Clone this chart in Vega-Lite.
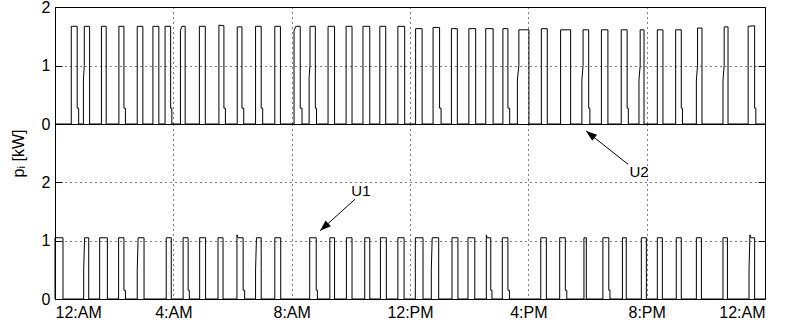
{
  "$schema": "https://vega.github.io/schema/vega-lite/v6.json",
  "background": "white",
  "padding": {"left": 9, "top": -2, "right": 2, "bottom": 0},
  "spacing": 0,
  "bounds": "flush",
  "config": {
    "view": {"stroke": "black", "strokeWidth": 1},
    "font": "Liberation Sans",
    "axis": {"domain": false, "ticks": false, "grid": true, "gridColor": "black", "gridDash": [1, 4], "gridWidth": 1, "gridOpacity": 1,
      "labelFont": "Liberation Sans", "labelFontSize": 16, "labelColor": "black", "labelPadding": 5, "format": "d",
      "titleFont": "Liberation Sans", "titleFontSize": 16, "titleFontWeight": "normal", "titleColor": "black"}
  },
  "datasets": {
    "u2": [
      {"t":0,"p":0},
      {"t":0.55,"p":0},{"t":0.55,"p":1.67},{"t":0.75,"p":1.67},{"t":0.75,"p":0.27},{"t":0.80,"p":0.27},{"t":0.80,"p":0},
      {"t":0.96,"p":0},{"t":0.96,"p":0.75},{"t":0.99,"p":1.0},{"t":0.99,"p":1.67},{"t":1.17,"p":1.67},{"t":1.17,"p":0},
      {"t":1.57,"p":0},{"t":1.57,"p":1.67},{"t":1.73,"p":1.67},{"t":1.73,"p":0},
      {"t":2.16,"p":0},{"t":2.16,"p":1.67},{"t":2.33,"p":1.67},{"t":2.33,"p":0.27},{"t":2.38,"p":0.27},{"t":2.38,"p":0},
      {"t":2.78,"p":0},{"t":2.78,"p":1.67},{"t":2.97,"p":1.67},{"t":2.97,"p":0},
      {"t":3.31,"p":0},{"t":3.31,"p":1.67},{"t":3.51,"p":1.67},{"t":3.51,"p":0},
      {"t":3.72,"p":0},{"t":3.72,"p":1.67},{"t":3.91,"p":1.67},{"t":3.91,"p":0.27},{"t":3.95,"p":0.27},{"t":3.95,"p":0},
      {"t":4.24,"p":0},{"t":4.24,"p":1.6},{"t":4.29,"p":1.67},{"t":4.40,"p":1.67},{"t":4.40,"p":0},
      {"t":4.88,"p":0},{"t":4.88,"p":1.67},{"t":5.08,"p":1.67},{"t":5.08,"p":0},
      {"t":5.54,"p":0},{"t":5.54,"p":1.69},{"t":5.71,"p":1.68},{"t":5.71,"p":0.27},{"t":5.76,"p":0.27},{"t":5.76,"p":0},
      {"t":6.16,"p":0},{"t":6.16,"p":1.66},{"t":6.32,"p":1.66},{"t":6.32,"p":0.27},{"t":6.38,"p":0.27},{"t":6.38,"p":0},
      {"t":6.78,"p":0},{"t":6.78,"p":1.67},{"t":6.97,"p":1.67},{"t":6.97,"p":0.27},{"t":7.02,"p":0.27},{"t":7.02,"p":0},
      {"t":7.43,"p":0},{"t":7.43,"p":1.67},{"t":7.62,"p":1.67},{"t":7.62,"p":0},
      {"t":8.08,"p":0},{"t":8.08,"p":1.6},{"t":8.14,"p":1.67},{"t":8.29,"p":1.67},{"t":8.29,"p":0.27},{"t":8.35,"p":0.27},{"t":8.35,"p":0},
      {"t":8.59,"p":0},{"t":8.59,"p":0.8},{"t":8.62,"p":1.0},{"t":8.62,"p":1.67},{"t":8.80,"p":1.67},{"t":8.80,"p":0.27},{"t":8.84,"p":0.27},{"t":8.84,"p":0},
      {"t":9.23,"p":0},{"t":9.23,"p":1.67},{"t":9.45,"p":1.67},{"t":9.45,"p":0},
      {"t":9.84,"p":0},{"t":9.84,"p":1.67},{"t":10.04,"p":1.67},{"t":10.04,"p":0},
      {"t":10.41,"p":0},{"t":10.41,"p":1.67},{"t":10.64,"p":1.67},{"t":10.64,"p":0},
      {"t":10.98,"p":0},{"t":10.98,"p":1.67},{"t":11.18,"p":1.67},{"t":11.18,"p":0},
      {"t":11.59,"p":0},{"t":11.59,"p":1.67},{"t":11.82,"p":1.67},{"t":11.82,"p":0},
      {"t":12.19,"p":0},{"t":12.19,"p":1.63},{"t":12.41,"p":1.63},{"t":12.41,"p":0},
      {"t":12.78,"p":0},{"t":12.78,"p":1.65},{"t":13.00,"p":1.65},{"t":13.00,"p":0.27},{"t":13.05,"p":0.27},{"t":13.05,"p":0},
      {"t":13.40,"p":0},{"t":13.40,"p":1.63},{"t":13.60,"p":1.63},{"t":13.60,"p":0},
      {"t":13.99,"p":0},{"t":13.99,"p":1.63},{"t":14.22,"p":1.63},{"t":14.22,"p":0},
      {"t":14.56,"p":0},{"t":14.56,"p":1.63},{"t":14.81,"p":1.63},{"t":14.81,"p":0},
      {"t":15.14,"p":0},{"t":15.14,"p":1.63},{"t":15.31,"p":1.63},{"t":15.31,"p":0.27},{"t":15.37,"p":0.27},{"t":15.37,"p":0},
      {"t":15.63,"p":0},{"t":15.63,"p":0.75},{"t":15.68,"p":1.0},{"t":15.68,"p":1.61},{"t":16.02,"p":1.61},{"t":16.02,"p":0},
      {"t":16.44,"p":0},{"t":16.44,"p":1.63},{"t":16.64,"p":1.63},{"t":16.64,"p":0},
      {"t":17.09,"p":0},{"t":17.09,"p":1.61},{"t":17.43,"p":1.61},{"t":17.43,"p":0},
      {"t":17.81,"p":0},{"t":17.81,"p":0.75},{"t":17.85,"p":1.0},{"t":17.85,"p":1.61},{"t":18.04,"p":1.61},{"t":18.04,"p":0.27},{"t":18.08,"p":0.27},{"t":18.08,"p":0},
      {"t":18.47,"p":0},{"t":18.47,"p":1.61},{"t":18.69,"p":1.61},{"t":18.69,"p":0},
      {"t":19.14,"p":0},{"t":19.14,"p":1.61},{"t":19.34,"p":1.61},{"t":19.34,"p":0.27},{"t":19.38,"p":0.27},{"t":19.38,"p":0},
      {"t":19.74,"p":0},{"t":19.74,"p":0.75},{"t":19.78,"p":1.0},{"t":19.78,"p":1.61},{"t":19.91,"p":1.61},{"t":19.91,"p":0},
      {"t":20.36,"p":0},{"t":20.36,"p":1.61},{"t":20.55,"p":1.61},{"t":20.55,"p":0},
      {"t":20.98,"p":0},{"t":20.98,"p":1.61},{"t":21.17,"p":1.61},{"t":21.17,"p":0.27},{"t":21.21,"p":0.27},{"t":21.21,"p":0},
      {"t":21.68,"p":0},{"t":21.68,"p":0.75},{"t":21.72,"p":1.0},{"t":21.72,"p":1.64},{"t":21.87,"p":1.64},{"t":21.87,"p":0},
      {"t":22.58,"p":0},{"t":22.58,"p":0.75},{"t":22.62,"p":1.0},{"t":22.62,"p":1.66},{"t":22.75,"p":1.66},{"t":22.75,"p":0},
      {"t":23.43,"p":0},{"t":23.43,"p":1.67},{"t":23.65,"p":1.68},{"t":23.65,"p":0.27},{"t":23.69,"p":0.27},{"t":23.69,"p":0},
      {"t":24,"p":0}
    ],
    "u1": [
      {"t":0,"p":0},{"t":0,"p":1.05},{"t":0.27,"p":1.05},{"t":0.27,"p":0},
      {"t":0.97,"p":0},{"t":0.97,"p":0.5},{"t":1.0,"p":1.05},{"t":1.14,"p":1.05},{"t":1.14,"p":0},
      {"t":1.51,"p":0},{"t":1.51,"p":1.05},{"t":1.77,"p":1.05},{"t":1.77,"p":0},
      {"t":2.15,"p":0},{"t":2.15,"p":1.05},{"t":2.33,"p":1.05},{"t":2.33,"p":0.15},{"t":2.38,"p":0.15},{"t":2.38,"p":0},
      {"t":2.78,"p":0},{"t":2.78,"p":0.5},{"t":2.81,"p":1.05},{"t":3.01,"p":1.05},{"t":3.01,"p":0},
      {"t":3.76,"p":0},{"t":3.76,"p":1.05},{"t":3.93,"p":1.05},{"t":3.93,"p":0},
      {"t":4.33,"p":0},{"t":4.33,"p":1.05},{"t":4.50,"p":1.05},{"t":4.50,"p":0.15},{"t":4.54,"p":0.15},{"t":4.54,"p":0},
      {"t":4.89,"p":0},{"t":4.89,"p":1.05},{"t":5.09,"p":1.05},{"t":5.09,"p":0},
      {"t":5.51,"p":0},{"t":5.51,"p":1.05},{"t":5.68,"p":1.05},{"t":5.68,"p":0},
      {"t":6.15,"p":0},{"t":6.15,"p":1.1},{"t":6.19,"p":1.05},{"t":6.36,"p":1.05},{"t":6.36,"p":0.15},{"t":6.41,"p":0.15},{"t":6.41,"p":0},
      {"t":6.78,"p":0},{"t":6.78,"p":0.5},{"t":6.81,"p":1.05},{"t":6.97,"p":1.05},{"t":6.97,"p":0},
      {"t":7.43,"p":0},{"t":7.43,"p":1.05},{"t":7.63,"p":1.05},{"t":7.63,"p":0},
      {"t":8.61,"p":0},{"t":8.61,"p":1.05},{"t":8.83,"p":1.05},{"t":8.83,"p":0.15},{"t":8.87,"p":0.15},{"t":8.87,"p":0},
      {"t":9.29,"p":0},{"t":9.29,"p":1.05},{"t":9.45,"p":1.05},{"t":9.45,"p":0},
      {"t":9.85,"p":0},{"t":9.85,"p":1.05},{"t":10.04,"p":1.05},{"t":10.04,"p":0},
      {"t":10.47,"p":0},{"t":10.47,"p":1.05},{"t":10.64,"p":1.05},{"t":10.64,"p":0},
      {"t":11.00,"p":0},{"t":11.00,"p":1.05},{"t":11.20,"p":1.05},{"t":11.20,"p":0},
      {"t":11.59,"p":0},{"t":11.59,"p":1.05},{"t":11.80,"p":1.05},{"t":11.80,"p":0},
      {"t":12.18,"p":0},{"t":12.18,"p":1.05},{"t":12.44,"p":1.05},{"t":12.44,"p":0},
      {"t":12.72,"p":0},{"t":12.72,"p":0.5},{"t":12.75,"p":1.05},{"t":12.97,"p":1.05},{"t":12.97,"p":0},
      {"t":13.42,"p":0},{"t":13.42,"p":1.05},{"t":13.62,"p":1.05},{"t":13.62,"p":0},
      {"t":13.96,"p":0},{"t":13.96,"p":1.05},{"t":14.19,"p":1.05},{"t":14.19,"p":0},
      {"t":14.58,"p":0},{"t":14.58,"p":1.1},{"t":14.61,"p":1.05},{"t":14.73,"p":1.05},{"t":14.73,"p":0.15},{"t":14.77,"p":0.15},{"t":14.77,"p":0},
      {"t":15.12,"p":0},{"t":15.12,"p":1.05},{"t":15.31,"p":1.05},{"t":15.31,"p":0.15},{"t":15.36,"p":0.15},{"t":15.36,"p":0},
      {"t":16.42,"p":0},{"t":16.42,"p":1.05},{"t":16.61,"p":1.05},{"t":16.61,"p":0},
      {"t":17.06,"p":0},{"t":17.06,"p":1.05},{"t":17.25,"p":1.05},{"t":17.25,"p":0.15},{"t":17.30,"p":0.15},{"t":17.30,"p":0},
      {"t":17.88,"p":0},{"t":17.88,"p":1.05},{"t":17.96,"p":1.05},{"t":17.96,"p":0},
      {"t":18.52,"p":0},{"t":18.52,"p":1.05},{"t":18.72,"p":1.05},{"t":18.72,"p":0.15},{"t":18.76,"p":0.15},{"t":18.76,"p":0},
      {"t":19.18,"p":0},{"t":19.18,"p":1.05},{"t":19.31,"p":1.05},{"t":19.31,"p":0},
      {"t":19.82,"p":0},{"t":19.82,"p":1.05},{"t":19.99,"p":1.05},{"t":19.99,"p":0},
      {"t":20.36,"p":0},{"t":20.36,"p":1.05},{"t":20.53,"p":1.05},{"t":20.53,"p":0},
      {"t":21.00,"p":0},{"t":21.00,"p":1.05},{"t":21.17,"p":1.05},{"t":21.17,"p":0},
      {"t":21.68,"p":0},{"t":21.68,"p":1.05},{"t":21.85,"p":1.05},{"t":21.85,"p":0},
      {"t":22.58,"p":0},{"t":22.58,"p":1.05},{"t":22.73,"p":1.05},{"t":22.73,"p":0},
      {"t":23.46,"p":0},{"t":23.46,"p":0.5},{"t":23.49,"p":1.1},{"t":23.52,"p":1.05},{"t":23.65,"p":1.05},{"t":23.65,"p":0},
      {"t":24,"p":0}
    ]
  },
  "vconcat": [
    {
      "width": 710,
      "height": 117,
      "resolve": {"axis": {"y": "independent"}},
      "layer": [
        {
          "data": {"name": "u2"},
          "mark": {"type": "line", "color": "black", "strokeWidth": 1},
          "encoding": {
            "x": {"field": "t", "type": "quantitative", "scale": {"domain": [0, 24], "nice": false},
              "axis": {"values": [0, 4, 8, 12, 16, 20, 24], "labels": false, "title": null}},
            "y": {"field": "p", "type": "quantitative", "scale": {"domain": [0, 2], "nice": false},
              "axis": {"values": [0, 1, 2], "title": null, "ticks": true, "tickSize": -7, "tickColor": "black", "labelPadding": 12}},
            "order": {"value": null}
          }
        },
        {
          "data": {"values": []},
          "mark": {"type": "point", "opacity": 0},
          "encoding": {
            "x": {"field": "t", "type": "quantitative"},
            "y": {"field": "p", "type": "quantitative",
              "axis": {"orient": "right", "values": [1], "labels": false, "grid": false, "title": null, "ticks": true, "tickSize": -7, "tickColor": "black"}}
          }
        }
      ]
    },
    {
      "width": 710,
      "height": 175,
      "resolve": {"axis": {"y": "independent"}},
      "layer": [
        {
          "data": {"name": "u1"},
          "mark": {"type": "line", "color": "black", "strokeWidth": 1},
          "encoding": {
            "x": {"field": "t", "type": "quantitative", "scale": {"domain": [0, 24], "nice": false},
              "axis": {"values": [0, 4, 8, 12, 16, 20, 24], "title": null,
                "labelExpr": "['12:AM','4:AM','8:AM','12:PM','4:PM','8:PM','12:AM'][round(datum.value/4)]"}},
            "y": {"field": "p", "type": "quantitative", "scale": {"domain": [0, 3], "nice": false},
              "axis": {"values": [0, 1, 2], "title": "pᵢ [kW]", "titleY": 29, "titleX": -29, "ticks": true, "tickSize": -7, "tickColor": "black", "labelPadding": 12}},
            "order": {"value": null}
          }
        },
        {
          "data": {"values": []},
          "mark": {"type": "point", "opacity": 0},
          "encoding": {
            "x": {"field": "t", "type": "quantitative"},
            "y": {"field": "p", "type": "quantitative",
              "axis": {"orient": "right", "values": [1, 2], "labels": false, "grid": false, "title": null, "ticks": true, "tickSize": -7, "tickColor": "black"}}
          }
        },
        {
          "data": {"values": [{"t": 10.14, "p": 1.71, "t2": 8.96, "p2": 1.17}]},
          "mark": {"type": "rule", "color": "black", "strokeWidth": 1},
          "encoding": {
            "x": {"field": "t", "type": "quantitative"},
            "y": {"field": "p", "type": "quantitative", "axis": null},
            "x2": {"field": "t2"},
            "y2": {"field": "p2"}
          }
        },
        {
          "data": {"values": [{"t": 8.96, "p": 1.17}]},
          "mark": {"type": "point", "shape": "M0,0L0.36,1L-0.36,1Z", "filled": true, "color": "black", "opacity": 1, "size": 480, "angle": 228, "strokeWidth": 0},
          "encoding": {
            "x": {"field": "t", "type": "quantitative"},
            "y": {"field": "p", "type": "quantitative", "axis": null}
          }
        },
        {
          "data": {"values": [{"t": 19.37, "p": 2.31, "t2": 17.95, "p2": 2.88}]},
          "mark": {"type": "rule", "color": "black", "strokeWidth": 1},
          "encoding": {
            "x": {"field": "t", "type": "quantitative"},
            "y": {"field": "p", "type": "quantitative", "axis": null},
            "x2": {"field": "t2"},
            "y2": {"field": "p2"}
          }
        },
        {
          "data": {"values": [{"t": 17.95, "p": 2.88}]},
          "mark": {"type": "point", "shape": "M0,0L0.36,1L-0.36,1Z", "filled": true, "color": "black", "opacity": 1, "size": 480, "angle": 308, "strokeWidth": 0},
          "encoding": {
            "x": {"field": "t", "type": "quantitative"},
            "y": {"field": "p", "type": "quantitative", "axis": null}
          }
        },
        {
          "data": {"values": [{"t": 10.34, "p": 1.85, "label": "U1"}, {"t": 19.74, "p": 2.18, "label": "U2"}]},
          "mark": {"type": "text", "font": "Liberation Sans", "fontSize": 15, "color": "black", "align": "center", "baseline": "middle"},
          "encoding": {
            "x": {"field": "t", "type": "quantitative"},
            "y": {"field": "p", "type": "quantitative", "axis": null},
            "text": {"field": "label"}
          }
        }
      ]
    }
  ]
}
